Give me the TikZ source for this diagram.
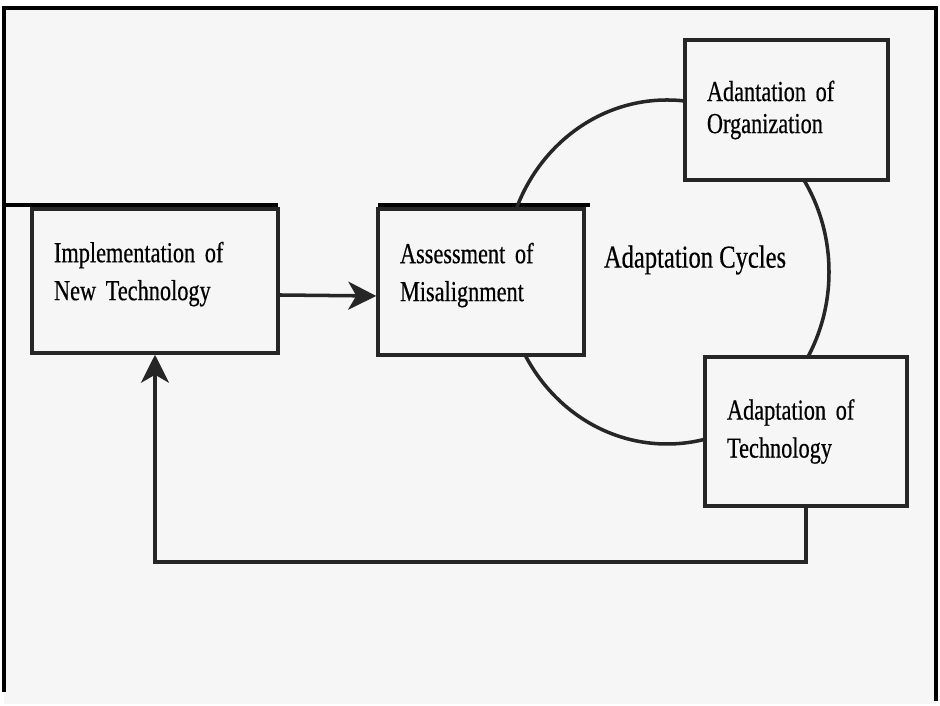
\documentclass[tikz,border=0pt]{standalone}
\usepackage{fontspec}
\setmainfont{Liberation Serif}[FakeStretch=0.77, FakeBold=0.5]
\usetikzlibrary{arrows.meta}
\tikzset{
    stagebox/.style={draw=black!85, line width=2.5pt, fill=gray!7, align=left,
        inner xsep=0.55cm, inner ysep=0pt,
        font=\fontsize{20.6}{27}\selectfont},
    cycleline/.style={draw=black!85, line width=2.5pt},
    arr/.style={draw=black!85, line width=2.5pt, -{Stealth[length=0.7cm, width=0.7cm, inset=0.2cm]}},
    scanbar/.style={line width=3pt, black}
}
\begin{document}
\begin{tikzpicture}
                \useasboundingbox (0, 0) rectangle (23.5, 17.65);
                \fill[gray!7] (0.1, 0.05) rectangle (23.4, 17.45);
                % edges of the scanned page
                \draw[scanbar] (0.1, 0.35) -- (0.1, 17.45) -- (23.4, 17.45) -- (23.4, 0.125);
                \draw[scanbar] (0.1, 12.525) -- (6.95, 12.525);
                \draw[scanbar] (9.45, 12.525) -- (14.75, 12.525);
                \draw[cycleline] (16.675, 10.85) ellipse [x radius=4.05, y radius=4.3];
                \node[stagebox, text width=5.05cm, minimum height=3.6cm, text depth=1.45cm] (impl) at (3.875, 10.625) {Implementation of\\New Technology};
                \node[stagebox, text width=4.05cm, minimum height=3.65cm, text depth=1.45cm] (assess) at (12.025, 10.6) {Assessment of\\Misalignment};
                \node[stagebox, text width=3.975cm, minimum height=3.5cm, font=\fontsize{20.6}{22.8}\selectfont] (org) at (19.66, 14.9) {Adantation of\\Organization};
                \node[stagebox, text width=3.95cm, minimum height=3.725cm] (tech) at (20.15, 6.8625) {Adaptation of\\Technology};
                \node[font=\fontsize{22.7}{27}\selectfont] (cycles) at (17.375, 11.15) {Adaptation Cycles};
                \coordinate (loop) at (0, 3.6);
                \draw[arr] ([yshift=-0.35cm]impl.east) -- ([yshift=-0.35cm]assess.west);
                \draw[arr] (tech.south) -- (tech.south |- loop) -| (impl.south);
            \end{tikzpicture}
\end{document}
